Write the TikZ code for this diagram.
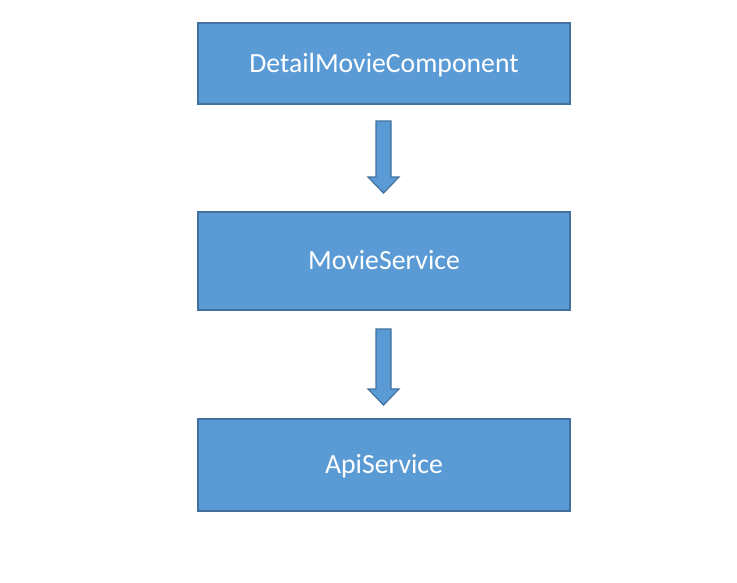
\documentclass[tikz,border=0pt]{standalone}
\usepackage{fontspec}
\setmainfont{Carlito}
\usetikzlibrary{positioning,calc}

\definecolor{boxfill}{RGB}{91,155,213}
\definecolor{boxline}{RGB}{65,113,156}

\tikzset{
  layerbox/.style={draw=boxline, line width=1.5pt, fill=boxfill, minimum width=279pt,
    inner sep=0pt, text=white, text height=13.4pt, text depth=0pt,
    font=\fontsize{20.8}{24}\selectfont},
  blockarrow/.style={draw=boxline, line width=0.9pt, fill=boxfill, line join=miter}
}

\begin{document}
\begin{tikzpicture}[x=0.75pt,y=0.75pt,yscale=-1,xscale=1]
\useasboundingbox (0,0) rectangle (737,582);

% boxes
\node [layerbox, minimum height=60.75pt] (detail) at (384,63.5) {DetailMovieComponent};
\node [layerbox, minimum height=73.5pt, below=79.5pt of detail] (movie) {MovieService};
\node [layerbox, minimum height=69pt, below=80.25pt of movie] (api) {ApiService};

% block arrows between the boxes
\coordinate (a1top) at ($(detail.south)+(-0.5,16)$);
\coordinate (a1tip) at ($(movie.north)+(-0.5,-18)$);
\coordinate (a2top) at ($(movie.south)+(-0.5,18)$);
\coordinate (a2tip) at ($(api.north)+(-0.5,-13)$);

\foreach \t/\h in {a1top/a1tip,a2top/a2tip}
  \draw [blockarrow] ($(\t)+(-7.5,0)$) -- ($(\t)+(7.5,0)$) -- ($(\h)+(7.5,-16)$)
    -- ($(\h)+(15.5,-16)$) -- (\h) -- ($(\h)+(-15.5,-16)$) -- ($(\h)+(-7.5,-16)$) -- cycle;

\end{tikzpicture}
\end{document}
